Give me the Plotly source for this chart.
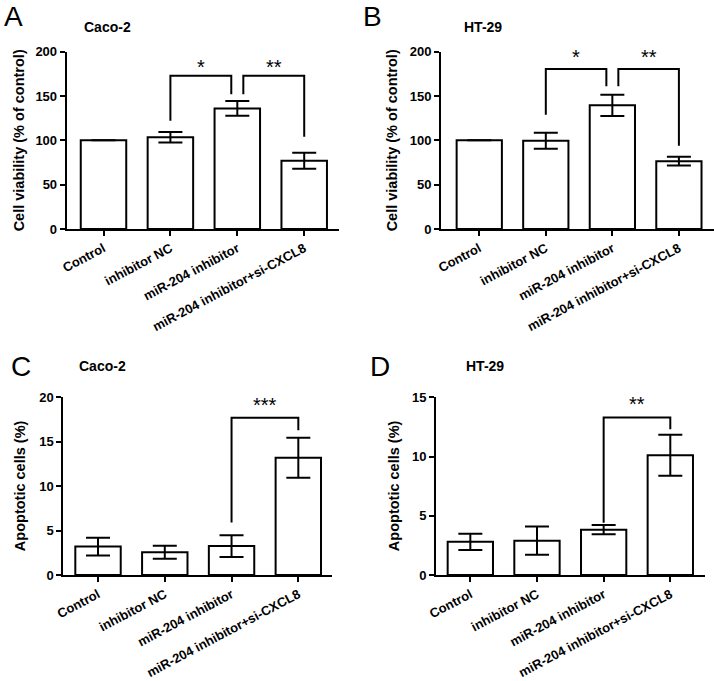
import plotly.graph_objects as go

W, H = 714, 681

categories = ["Control", "inhibitor NC", "miR-204 inhibitor", "miR-204 inhibitor+si-CXCL8"]

# Panel A: Caco-2 cell viability
a_vals = [100, 103.5, 136, 77]
a_err = [0, 6, 8.3, 9]
# Panel B: HT-29 cell viability
b_vals = [100, 99.5, 139.5, 76.5]
b_err = [0, 9, 12, 5]
# Panel C: Caco-2 apoptotic cells
c_vals = [3.2, 2.55, 3.25, 13.2]
c_err = [1.0, 0.73, 1.22, 2.25]
# Panel D: HT-29 apoptotic cells
d_vals = [2.8, 2.9, 3.83, 10.1]
d_err = [0.68, 1.2, 0.4, 1.73]

# significance brackets: (from group, to group, top level, left leg end, right leg end, label)
a_sig = [(1, 2, 173, 122, 152, "*"), (2, 3, 173, 152, 104, "**")]
b_sig = [(1, 2, 180.5, 129, 161, "*"), (2, 3, 180.5, 161, 94, "**")]
c_sig = [(2, 3, 17.7, 5.9, 16.3, "***")]
d_sig = [(2, 3, 13.3, 4.4, 12.3, "**")]

panels = [
    dict(vals=a_vals, err=a_err, sig=a_sig, ymax=200, dtick=50, letter="A", cell="Caco-2",
         ytitle="Cell viability (% of control)", px=(66.7, 339), py=(51.7, 229),
         xr=(-0.55, 3.52), letter_xy=(13, 0), cell_xy=(108, 27), ytitle_x=19, star_shift=-7),
    dict(vals=b_vals, err=b_err, sig=b_sig, ymax=200, dtick=50, letter="B", cell="HT-29",
         ytitle="Cell viability (% of control)", px=(441, 713.5), py=(51.7, 229),
         xr=(-0.575, 3.52), letter_xy=(372, 0), cell_xy=(483, 27), ytitle_x=392, star_shift=-4),
    dict(vals=c_vals, err=c_err, sig=c_sig, ymax=20, dtick=5, letter="C", cell="Caco-2",
         ytitle="Apoptotic cells (%)", px=(63.3, 331.7), py=(397.3, 575),
         xr=(-0.52, 3.5), letter_xy=(21, 350), cell_xy=(102, 366), ytitle_x=20, star_shift=-3),
    dict(vals=d_vals, err=d_err, sig=d_sig, ymax=15, dtick=5, letter="D", cell="HT-29",
         ytitle="Apoptotic cells (%)", px=(436, 705.3), py=(397.3, 575),
         xr=(-0.515, 3.525), letter_xy=(380, 350), cell_xy=(485, 366), ytitle_x=394, star_shift=-2),
]

FONT = "Arial, Liberation Sans, sans-serif"
fig = go.Figure()
annotations = []
layout = {}
off = 0.09

for i, p in enumerate(panels):
    n = "" if i == 0 else str(i + 1)
    xa, ya = "x" + n, "y" + n
    xs = list(range(len(categories)))
    fig.add_trace(go.Bar(
        x=xs, y=p["vals"], width=0.68, xaxis=xa, yaxis=ya,
        marker=dict(color="white", line=dict(color="black", width=2)),
        error_y=dict(type="data", array=p["err"], color="black", thickness=2, width=12),
        showlegend=False, hoverinfo="skip"))
    for (g1, g2, top, l_end, r_end, lab) in p["sig"]:
        x1 = g1 + (off if (g1 == 2 and len(p["sig"]) > 1) else 0)
        x2 = g2 - (off if (g2 == 2) else 0)
        fig.add_trace(go.Scatter(
            x=[x1, x1, x2, x2], y=[l_end, top, top, r_end], mode="lines",
            line=dict(color="black", width=2), xaxis=xa, yaxis=ya,
            showlegend=False, hoverinfo="skip", cliponaxis=False))
        annotations.append(dict(
            x=(x1 + x2) / 2, y=top + p["ymax"] * 0.015, xref=xa, yref=ya, text=lab,
            xanchor="center", yanchor="bottom", yshift=p["star_shift"],
            showarrow=False, font=dict(family=FONT, size=20, color="black")))
    layout["xaxis" + n] = dict(
        domain=[p["px"][0] / W, p["px"][1] / W], anchor=ya, range=list(p["xr"]),
        tickvals=xs, ticktext=categories, tickangle=-28, automargin=False,
        showline=True, linecolor="black", linewidth=2, ticks="outside", ticklen=5,
        tickwidth=2, tickcolor="black", showgrid=False, zeroline=False,
        tickfont=dict(family=FONT, size=13, color="black", weight="bold"))
    layout["yaxis" + n] = dict(
        domain=[1 - p["py"][1] / H, 1 - p["py"][0] / H], anchor=xa,
        range=[0, p["ymax"]], dtick=p["dtick"], automargin=False,
        showline=True, linecolor="black", linewidth=2, ticks="outside", ticklen=5,
        tickwidth=2, tickcolor="black", showgrid=False, zeroline=False,
        tickfont=dict(family=FONT, size=13, color="black", weight="bold"))
    annotations.append(dict(x=p["letter_xy"][0] / W, y=1 - p["letter_xy"][1] / H, xref="paper",
                            yref="paper", text=p["letter"], showarrow=False,
                            xanchor="center", yanchor="top", borderpad=0,
                            font=dict(family=FONT, size=28, color="black")))
    annotations.append(dict(x=p["cell_xy"][0] / W, y=1 - p["cell_xy"][1] / H, xref="paper",
                            yref="paper", text="<b>" + p["cell"] + "</b>", showarrow=False,
                            xanchor="center", yanchor="middle",
                            font=dict(family=FONT, size=14, color="black")))
    annotations.append(dict(x=p["ytitle_x"] / W, y=1 - (p["py"][0] + p["py"][1]) / 2 / H,
                            xref="paper", yref="paper", text="<b>" + p["ytitle"] + "</b>",
                            textangle=-90, showarrow=False, xanchor="center", yanchor="middle",
                            font=dict(family=FONT, size=14.5, color="black")))

fig.update_layout(
    template="none",
    width=W, height=H, margin=dict(l=0, r=0, t=0, b=0, autoexpand=False),
    paper_bgcolor="white", plot_bgcolor="white",
    annotations=annotations, **layout)

fig.write_html("out.html", config={"displayModeBar": False},
               post_script="document.body.style.margin='0';document.body.style.padding='0';")
